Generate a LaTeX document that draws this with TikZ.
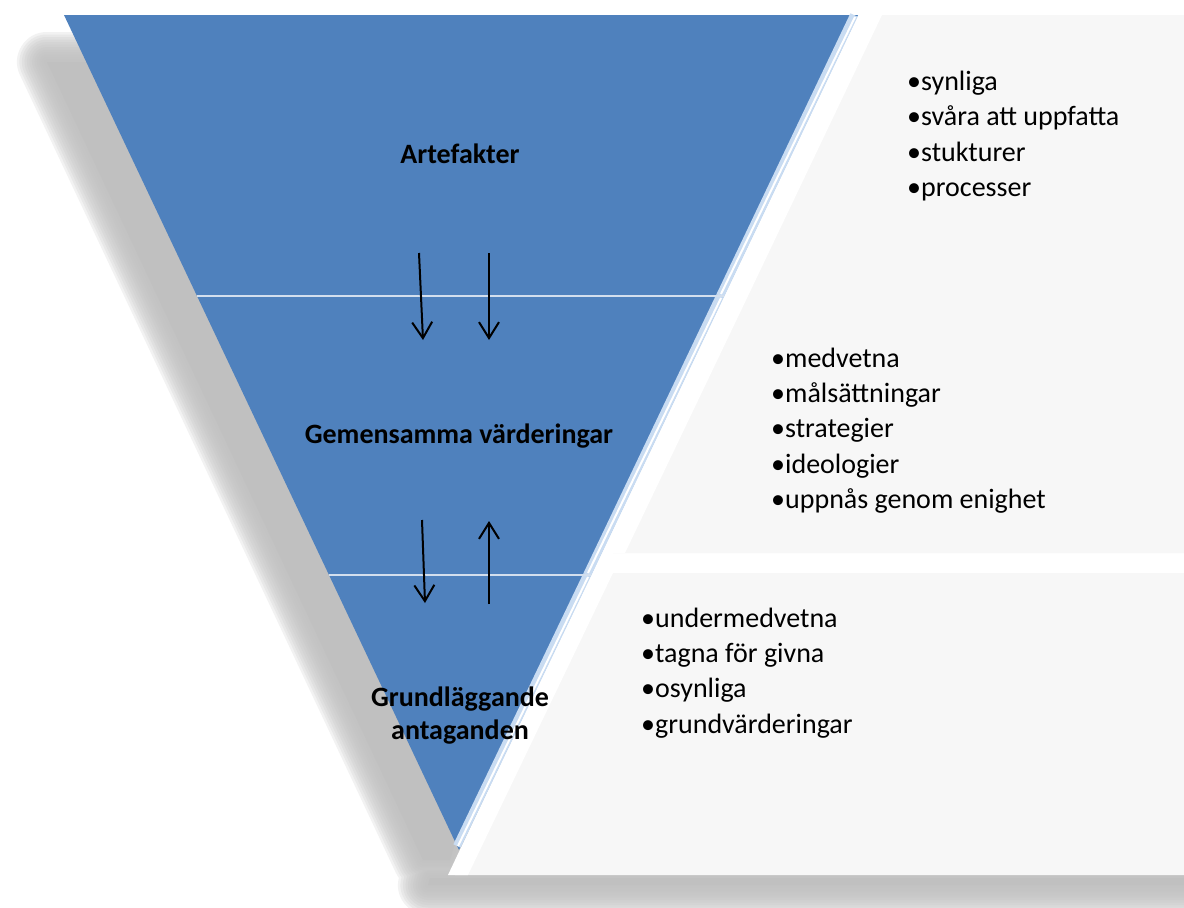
\documentclass[tikz,border=0pt]{standalone}
\usepackage{fontspec}
\setmainfont{Carlito}
\usetikzlibrary{arrows.meta}

\definecolor{layerblue}{HTML}{4F81BD}
\definecolor{bevelblue}{HTML}{C9DCF2}
\definecolor{panelgray}{HTML}{F7F7F7}
\definecolor{shadowgray}{HTML}{C0C0C0}

\begin{document}
\begin{tikzpicture}[
    x=1pt, y=-1pt,
    layer/.style={fill=layerblue},
    bevel/.style={line width=8pt, bevelblue},
    shine/.style={line width=2pt, white},
    divider/.style={line width=1.5pt, white!75!layerblue},
    panel/.style={fill=panelgray},
    title/.style={font=\fontsize{28}{33}\selectfont\bfseries, align=center, inner sep=0pt},
    items/.style={font=\fontsize{28}{35.4}\selectfont, align=left, inner sep=0pt, anchor=base west},
    flow/.style={-{Straight Barb[length=16pt, width=20pt]}, line width=2pt},
]

\clip (0,0) rectangle (1184,908);
\fill[white] (0,0) rectangle (1184,908);

% ====== Shadow ======
\foreach \w in {60,55,...,5} {
  \draw[shadowgray, line width=\w pt, opacity=0.2, line join=round]
    (47,62) -- (780,62) -- (540,560) -- (450,860) -- (423,860) -- cycle
    (430,878) -- (1220,878) -- (1220,885) -- (428,885) -- cycle;
}
\fill[shadowgray] (47,62) -- (780,62) -- (540,560) -- (450,860) -- (423,860) -- cycle;
\fill[shadowgray] (430,878) -- (1220,878) -- (1220,885) -- (428,885) -- cycle;

% ====== Panels ======
\fill[panel] (870,15) -- (1190,15) -- (1190,296) -- (736,296) -- cycle;
\fill[panel] (736,296) -- (1190,296) -- (1190,553) -- (613,553) -- cycle;
\fill[panel] (600,573) -- (1190,573) -- (1190,875) -- (455,875) -- cycle;
\fill[white] (858,15) -- (882,15) -- (748,296) -- (724,296) -- cycle;
\fill[white] (724,296) -- (748,296) -- (625,553) -- (601,553) -- cycle;
\fill[white] (591,573) -- (613,573) -- (468,875) -- (448,875) -- cycle;

% ====== Layers ======
\fill[layer] (64,15) -- (858,15) -- (724,296) -- (197,296) -- cycle;
\fill[layer] (197,296) -- (724,296) -- (591,575) -- (329,575) -- cycle;
\fill[layer] (329,575) -- (591,575) -- (459,850) -- cycle;

\draw[bevel] (854,15) -- (720,296);
\draw[bevel] (720,296) -- (587,575);
\draw[bevel] (587,575) -- (457,846);
\draw[shine] (855,17) -- (721,294);
\draw[shine] (721,298) -- (588,573);
\draw[shine] (588,577) -- (458,846);

\draw[divider] (197,296) -- (724,296);
\draw[divider] (329,575) -- (591,575);

% ====== Layer titles ======
\node[title, anchor=base] (art) at (460,163) {Artefakter};
\node[title, anchor=base] (gem) at (459,443) {Gemensamma värderingar};
\node[title] (grund) at (460,716) {Grundläggande\\antaganden};

% ====== Arrows between layers ======
\coordinate (a1s) at (419,253);
\coordinate (a1e) at (423,340);
\coordinate (a2s) at (489,253);
\coordinate (a2e) at (489,340);
\coordinate (a3s) at (422,520);
\coordinate (a3e) at (425,603);
\coordinate (a4s) at (489,604);
\coordinate (a4e) at (489,521);
\draw[flow] (a1s) -- (a1e);
\draw[flow] (a2s) -- (a2e);
\draw[flow] (a3s) -- (a3e);
\draw[flow] (a4s) -- (a4e);

% ====== Descriptions ======
\node[items] (artList) at (907,196.7)
{•synliga\\•svåra att uppfatta\\•stukturer\\•processer};
\node[items] (gemList) at (771,508.6)
{•medvetna\\•målsättningar\\•strategier\\•ideologier\\•uppnås genom enighet};
\node[items] (grundList) at (641,733.2)
{•undermedvetna\\•tagna för givna\\•osynliga\\•grundvärderingar};

\end{tikzpicture}
\end{document}
